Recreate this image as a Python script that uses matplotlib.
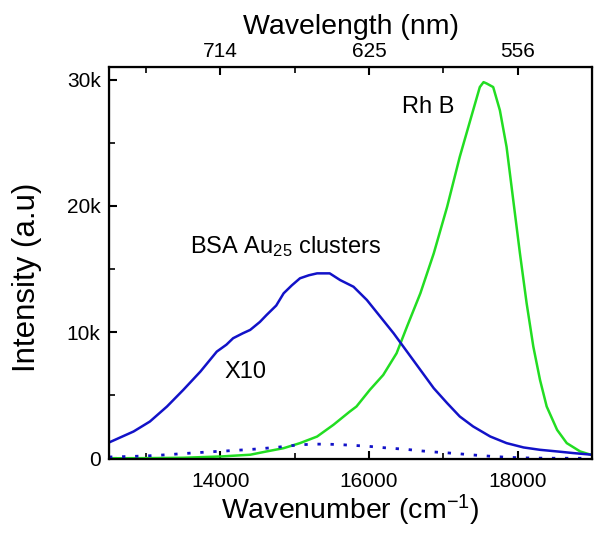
import matplotlib
matplotlib.use("Agg")
import matplotlib.pyplot as plt
from matplotlib.ticker import MultipleLocator, FuncFormatter

plt.rcParams['font.family'] = ['Liberation Sans', 'DejaVu Sans']
plt.rcParams['mathtext.fontset'] = 'custom'
plt.rcParams['mathtext.rm'] = 'Liberation Sans'
plt.rcParams['mathtext.it'] = 'Liberation Sans'

# --- data ---
bsa_wn = [12500, 12830, 13050, 13280, 13500, 13730, 13950, 14080, 14170, 14300,
          14400, 14530, 14620, 14750, 14850, 14960, 15070, 15190, 15300, 15470,
          15610, 15790, 15970, 16150, 16330, 16510, 16690, 16870, 17050, 17220,
          17400, 17630, 17850, 18080, 18300, 18530, 18750, 19000]
bsa_x10 = [1250, 2120, 2910, 4100, 5420, 6870, 8450, 9000, 9510, 9900,
           10170, 10800, 11350, 12100, 13070, 13700, 14260, 14500, 14650, 14650,
           14120, 13590, 12540, 11220, 9900, 8450, 7000, 5550, 4370, 3310,
           2520, 1725, 1200, 855, 670, 540, 410, 280]
bsa_raw = [100, 150, 200, 280, 370, 460, 540, 580, 620, 660,
           700, 750, 800, 860, 930, 1000, 1070, 1100, 1120, 1110,
           1080, 1020, 960, 860, 780, 700, 590, 500, 430, 350,
           260, 160, 80, 30, 10, 0, 0, 0]

rhb_wn = [12500, 13000, 13500, 14000, 14400, 14620, 14850, 15070, 15300, 15520,
          15740, 15830, 16010, 16190, 16370, 16510, 16690, 16870, 17050, 17220,
          17400, 17490, 17540, 17580, 17670, 17760, 17850, 17940, 18030, 18120,
          18210, 18300, 18390, 18530, 18660, 18840, 19000]
rhb = [0, 10, 40, 140, 280, 540, 800, 1200, 1720, 2650,
       3700, 4100, 5420, 6600, 8320, 10430, 13070, 16230, 19920, 23880,
       27570, 29410, 29800, 29700, 29410, 27570, 24670, 20450, 16230, 12280,
       8850, 6210, 4100, 2250, 1200, 540, 250]

x_ticks = [14000, 16000, 18000]
y_ticks = [0, 10000, 20000, 30000]
top_tick_labels = ["714", "625", "556"]

blue = "#1212C8"
green = "#22DD22"

fig = plt.figure(figsize=(6.0, 5.33), dpi=100)
ax = fig.add_axes([0.1817, 0.1388, 0.805, 0.7355])

ax.plot(rhb_wn, rhb, color=green, lw=1.8)
ax.plot(bsa_wn, bsa_x10, color=blue, lw=1.8)
ax.plot(bsa_wn, bsa_raw, color=blue, lw=2.0, linestyle=(0, (1.2, 3.5)))

ax.set_xlim(12500, 19000)
ax.set_ylim(-60, 31000)

ax.set_xticks(x_ticks)
ax.xaxis.set_minor_locator(MultipleLocator(1000))
ax.set_yticks(y_ticks)
ax.yaxis.set_minor_locator(MultipleLocator(5000))
ax.yaxis.set_major_formatter(FuncFormatter(lambda v, p: "0" if v == 0 else f"{int(v/1000)}k"))

ax.tick_params(which='major', direction='in', length=6, width=1.5, labelsize=15,
               top=False, right=False)
ax.tick_params(axis='x', which='major', pad=9)
ax.tick_params(axis='y', which='major', pad=6)
ax.tick_params(which='minor', direction='in', length=4, width=1.2, top=False, right=False)
for s in ax.spines.values():
    s.set_linewidth(1.6)

ax.set_xlabel("Wavenumber (cm$^{-1}$)", fontsize=20.5, labelpad=2)
ax.set_ylabel("Intensity (a.u)", fontsize=22.5)
ax.yaxis.set_label_coords(-0.139, 0.463)

top = ax.twiny()
top.set_xlim(ax.get_xlim())
top.set_xticks(x_ticks)
top.set_xticklabels(top_tick_labels)
top.xaxis.set_minor_locator(MultipleLocator(1000))
top.tick_params(which='major', direction='in', length=6, width=1.5, labelsize=15, pad=4)
top.tick_params(which='minor', direction='in', length=4, width=1.2)
top.set_xlabel("Wavelength (nm)", fontsize=20.5, labelpad=6)

ax.text(16790, 27810, "Rh B", fontsize=17, ha='center', va='center')
ax.text(14875, 16760, "BSA Au$_{25}$ clusters", fontsize=17, ha='center', va='center')
ax.text(14340, 6870, "X10", fontsize=17, ha='center', va='center')

fig.savefig("out.png", dpi=100)
